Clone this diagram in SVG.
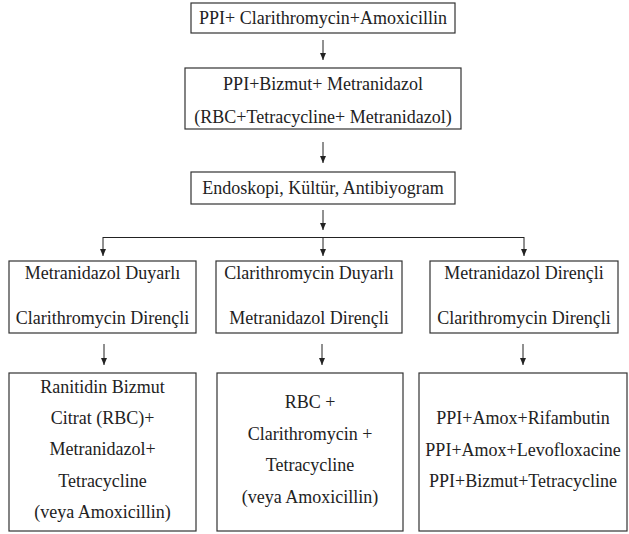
<svg xmlns="http://www.w3.org/2000/svg" width="629" height="534" viewBox="0 0 629 534">
<style>
.box{fill:#fff;stroke:#333;stroke-width:1.2}
.t text{font-size:18px;fill:#222;text-anchor:middle;dominant-baseline:central}
.c{stroke:#222;stroke-width:1;fill:none}
</style>
<defs>
<marker id="ah" markerWidth="8" markerHeight="8" refX="7" refY="3" orient="auto" markerUnits="userSpaceOnUse">
<path d="M0,0 L7,3 L0,6 Z" fill="#222"/>
</marker>
</defs>
<rect width="629" height="534" fill="#fff"/>
<g class="t" font-family="Liberation Serif, Tinos, Times New Roman, DejaVu Serif, serif">
<g id="n1"><rect class="box" x="191" y="3" width="264" height="30"/><text x="323" y="18">PPI+ Clarithromycin+Amoxicillin</text></g>
<g id="n2"><rect class="box" x="185" y="68" width="276" height="61"/><text x="323" y="84">PPI+Bizmut+ Metranidazol</text><text x="323" y="117">(RBC+Tetracycline+ Metranidazol)</text></g>
<g id="n3"><rect class="box" x="191" y="172" width="264" height="32"/><text x="323" y="188">Endoskopi, Kültür, Antibiyogram</text></g>
<g id="n4"><rect class="box" x="9" y="261" width="187" height="72"/><text x="102.5" y="273">Metranidazol Duyarlı</text><text x="102.5" y="318">Clarithromycin Dirençli</text></g>
<g id="n5"><rect class="box" x="216" y="261" width="186" height="72"/><text x="309" y="273">Clarithromycin Duyarlı</text><text x="309" y="318">Metranidazol Dirençli</text></g>
<g id="n6"><rect class="box" x="430" y="261" width="188" height="72"/><text x="524" y="273">Metranidazol Dirençli</text><text x="524" y="318">Clarithromycin Dirençli</text></g>
<g id="n7"><rect class="box" x="9" y="373" width="187" height="158"/><text x="102.5" y="387">Ranitidin Bizmut</text><text x="102.5" y="418">Citrat (RBC)+</text><text x="102.5" y="449">Metranidazol+</text><text x="102.5" y="481">Tetracycline</text><text x="102.5" y="512">(veya Amoxicillin)</text></g>
<g id="n8"><rect class="box" x="217" y="373" width="186" height="158"/><text x="310" y="402">RBC +</text><text x="310" y="434">Clarithromycin +</text><text x="310" y="465">Tetracycline</text><text x="310" y="497">(veya Amoxicillin)</text></g>
<g id="n9"><rect class="box" x="419" y="373" width="208" height="158"/><text x="523" y="418">PPI+Amox+Rifambutin</text><text x="523" y="450">PPI+Amox+Levofloxacine</text><text x="523" y="481">PPI+Bizmut+Tetracycline</text></g>
</g>
<g id="connectors">
<line class="c" x1="323" y1="40" x2="323" y2="60" marker-end="url(#ah)"/>
<line class="c" x1="323" y1="142" x2="323" y2="163" marker-end="url(#ah)"/>
<line class="c" x1="323" y1="210" x2="323" y2="230" marker-end="url(#ah)"/>
<line class="c" x1="103" y1="237.5" x2="524" y2="237.5"/>
<line class="c" x1="103" y1="237" x2="103" y2="256" marker-end="url(#ah)"/>
<line class="c" x1="323" y1="237" x2="323" y2="256" marker-end="url(#ah)"/>
<line class="c" x1="524" y1="237" x2="524" y2="256" marker-end="url(#ah)"/>
<line class="c" x1="104" y1="344" x2="104" y2="365" marker-end="url(#ah)"/>
<line class="c" x1="322" y1="344" x2="322" y2="365" marker-end="url(#ah)"/>
<line class="c" x1="523" y1="344" x2="523" y2="365" marker-end="url(#ah)"/>
</g>
</svg>
